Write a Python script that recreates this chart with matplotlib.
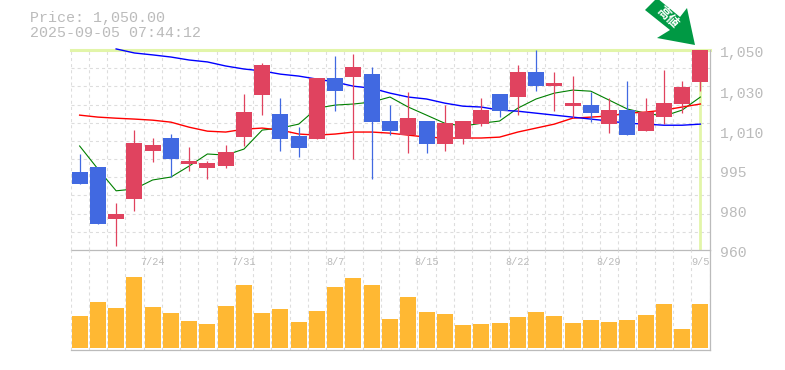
import numpy as np
import matplotlib
matplotlib.use("Agg")
import matplotlib.pyplot as plt
from matplotlib.patches import Polygon
from matplotlib.transforms import IdentityTransform

# daily candles, oldest first
opens = [994.1, 996.4, 973.5, 982.2, 1003.5, 1009.4, 997.7, 995.9, 996.8, 1009.8, 1029.0, 1020.3,
         1010.3, 1008.9, 1036.8, 1037.3, 1038.7, 1017.1, 1010.7, 1017.1, 1006.7, 1008.9, 1015.7, 1029.5,
         1028.1, 1039.7, 1033.1, 1023.9, 1024.4, 1015.7, 1022.1, 1012.5, 1018.9, 1024.9, 1035.0]
highs = [1002.2, 996.4, 980.5, 1013.0, 1009.4, 1011.2, 1005.3, 999.0, 1006.2, 1029.5, 1043.9, 1027.6,
         1014.3, 1036.8, 1047.2, 1048.1, 1042.0, 1024.4, 1030.4, 1017.1, 1024.4, 1017.1, 1027.6, 1029.5,
         1043.0, 1050.0, 1039.7, 1037.8, 1030.4, 1027.6, 1035.4, 1027.6, 1040.6, 1035.4, 1050.0]
lows = [988.8, 971.3, 961.7, 977.0, 998.6, 991.9, 994.6, 991.0, 995.9, 1005.8, 1019.8, 1003.5,
        1000.8, 1008.9, 1021.6, 999.9, 991.0, 1010.7, 1002.6, 1002.6, 1003.5, 1006.7, 1014.8, 1018.9,
        1019.8, 1030.8, 1021.6, 1018.4, 1016.6, 1011.6, 1010.7, 1012.5, 1015.7, 1020.7, 1030.8]
closes = [988.8, 971.3, 975.7, 1007.1, 1006.2, 999.9, 999.0, 998.2, 1003.1, 1021.2, 1043.0, 1008.9,
          1004.9, 1036.8, 1030.8, 1042.0, 1016.6, 1012.5, 1018.4, 1006.7, 1016.1, 1017.1, 1022.1, 1021.6,
          1039.7, 1033.1, 1034.5, 1025.3, 1020.7, 1022.1, 1010.7, 1021.2, 1025.3, 1032.7, 1050.0]
volumes = [32, 46, 40, 71, 41, 35, 27, 24, 42, 63, 35, 39, 26, 37, 61, 70, 63, 29, 51, 36, 34, 23,
           24, 25, 31, 36, 32, 25, 28, 26, 28, 33, 44, 19, 44]

ma_short = [1005.8, 995.5, 985.8, 986.6, 990.6, 991.9, 996.8, 1002.2, 1001.7, 1004.4, 1013.0, 1013.9,
            1015.7, 1023.0, 1024.4, 1024.9, 1025.8, 1028.1, 1023.5, 1019.8, 1016.1, 1014.8, 1016.1, 1017.1,
            1023.0, 1027.2, 1029.9, 1031.3, 1030.8, 1026.7, 1022.6, 1020.7, 1019.4, 1022.1, 1028.1]
ma_mid = [1019.8, 1018.9, 1018.4, 1018.0, 1017.5, 1016.6, 1014.3, 1012.5, 1012.1, 1013.4, 1013.9, 1013.0,
          1011.2, 1010.7, 1011.2, 1012.1, 1012.1, 1011.6, 1010.7, 1009.8, 1009.4, 1009.4, 1009.4, 1009.8,
          1012.1, 1013.9, 1015.7, 1018.4, 1018.9, 1019.4, 1020.7, 1021.2, 1022.1, 1023.5, 1024.9]
ma_long = [1050.5, 1048.6, 1047.7, 1046.7, 1045.3, 1044.4, 1042.5, 1041.1, 1040.2, 1038.7, 1037.8, 1036.4,
           1035.0, 1033.1, 1032.2, 1029.9, 1028.1, 1027.2, 1025.3, 1023.9, 1023.5, 1022.1, 1021.6, 1020.7,
           1019.8, 1018.9, 1018.0, 1017.1, 1016.1, 1015.7, 1015.2, 1015.2, 1015.7]

date_labels = ["7/24", "7/31", "8/7", "8/15", "8/22", "8/29", "9/5"]
date_index = [4, 9, 14, 19, 24, 29, 34]
price_ticks = [1050, 1031, 1012.8, 994.9, 977.3, 960]
price_labels = ["1,050", "1,030", "1,010", "995", "980", "960"]

RED = "#e0435f"
BLUE = "#4169e1"
GREY = "#bbbbbb"
GRID = "#dddddd"
HILITE = "#e2f5a9"
W, H = 785, 370

plt.rcParams["font.family"] = ["Liberation Mono", "Noto Sans CJK JP"]
plt.rcParams["lines.scale_dashes"] = False

fig = plt.figure(figsize=(W / 100, H / 100), dpi=100)
ax = fig.add_axes([70.5 / W, 1 - 250 / H, 639 / W, 200 / H])
vol = fig.add_axes([70.5 / W, 1 - 350 / H, 639 / W, 100 / H])

x = np.arange(len(opens)) + 0.5

for a in (ax, vol):
    a.set_xlim(0, len(opens))
    a.set_xticks([])
    a.set_yticks([])
    a.set_facecolor("none")
    for i in range(len(opens) + 1):
        a.axvline(i, color=GRID, lw=0.8, dashes=(2.2, 2.2), zorder=0)
    for s in ("top", "left"):
        a.spines[s].set_visible(False)
    for s in ("right", "bottom"):
        a.spines[s].set_color(GREY)
        a.spines[s].set_linewidth(0.9)

ax.set_yscale("log")
ax.set_ylim(960, 1050)
ax.minorticks_off()
ax.set_yticks([])
ax.yaxis.set_tick_params(which="both", length=0, labelleft=False)
for i in range(1, 11):
    ax.plot([0, 1], [i / 11, i / 11], transform=ax.transAxes, color=GRID, lw=0.8, dashes=(2.2, 2.2), zorder=0)

# last price highlight
ax.axhline(1050, color=HILITE, lw=2.2, zorder=1, clip_on=False)
ax.plot([x[-1], x[-1]], [960.4, 1050], color=HILITE, lw=2, zorder=1)

ax.plot(x, ma_short, color="green", lw=0.8, zorder=2)
ax.plot(x, ma_mid, color="red", lw=1, zorder=2)
ax.plot(x[2:], ma_long, color="blue", lw=1, zorder=2, clip_on=False)

for i in range(len(opens)):
    c = RED if closes[i] >= opens[i] else BLUE
    ax.plot([x[i], x[i]], [lows[i], highs[i]], color=c, lw=0.9, zorder=3, solid_capstyle="butt", clip_on=False)
    lo, hi = sorted((opens[i], closes[i]))
    ax.bar(x[i], hi - lo, bottom=lo, width=0.876, color=c, zorder=4, clip_on=False)

for v, lab in zip(price_ticks, price_labels):
    ax.annotate(lab, xy=(1, v), xycoords=ax.get_yaxis_transform(), xytext=(10.5, -3), textcoords="offset pixels",
                color=GREY, fontsize=10.6, va="center", ha="left", annotation_clip=False)

vol.set_ylim(-2, 98)
vol.bar(x, volumes, width=0.876, color="#ffb833", zorder=2)
for i, lab in zip(date_index, date_labels):
    vol.text(x[i], 0.88, lab, transform=vol.get_xaxis_transform(), color=GREY, fontsize=7.4, ha="center", va="center")

fig.text(30 / W, 1 - 18 / H, "Price: 1,050.00", color=GREY, fontsize=10.8, va="center")
fig.text(30 / W, 1 - 33 / H, "2025-09-05 07:44:12", color=GREY, fontsize=10.8, va="center")

# green marker arrow above the last candle
arrow = [(645, 10), (657, -2), (680, 17), (687, 8), (695, 45), (657, 38), (670, 30)]
fig.add_artist(Polygon([(px, H - py) for px, py in arrow], closed=True, facecolor="#009944", edgecolor="none",
                       transform=IdentityTransform(), zorder=5))
fig.text(667 / W, 1 - 18 / H, "高値", color="white", fontsize=9, fontweight="bold", rotation=-45,
         rotation_mode="anchor", ha="center", va="center", family=["Noto Sans CJK JP", "DejaVu Sans"], zorder=6)

fig.savefig("out.png", dpi=100)
